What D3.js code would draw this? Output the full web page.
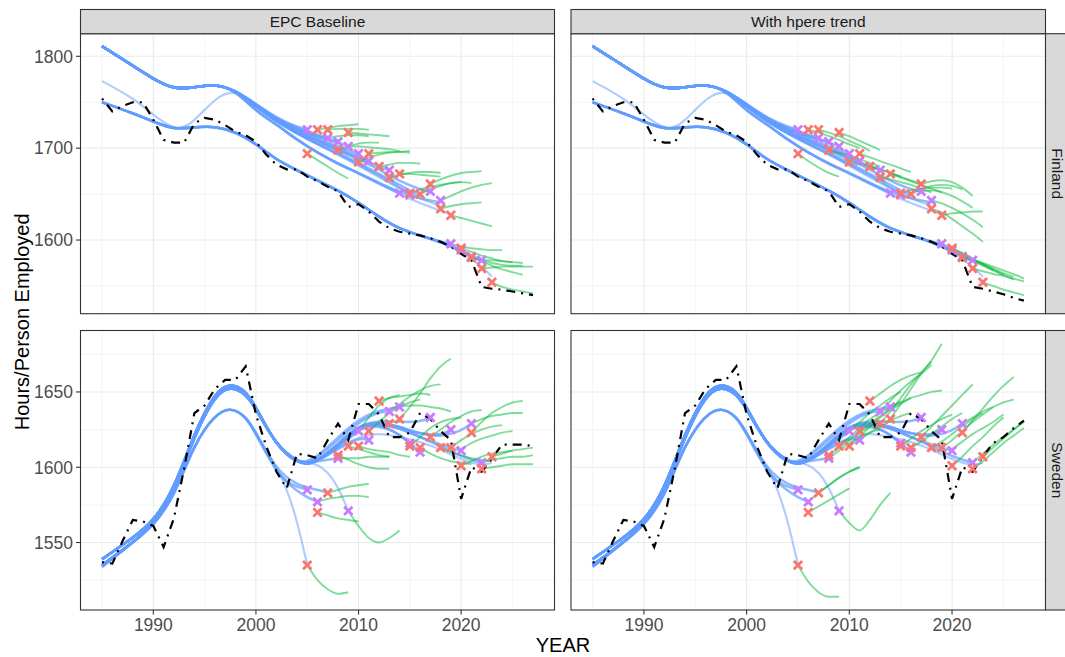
<!DOCTYPE html>
<html>
<head>
<meta charset="utf-8">
<script src="https://cdn.jsdelivr.net/npm/d3@7"></script>
<style>
  body { margin: 0; background: #fff; }
  svg { display: block; font-family: "Liberation Sans", Arial, sans-serif; }
</style>
</head>
<body>
<div id="chart"></div>
<script>
// ---- Data ----
const scenarios = ["EPC Baseline", "With hpere trend"];
const countries = ["Finland", "Sweden"];

const xDomain = [1982.9, 2029.1];
const xTicks = [1990, 2000, 2010, 2020];
const xMinor = [1985, 1995, 2005, 2015, 2025];

const finDomain = [1519.8, 1824.6];
const finTicks = [1600, 1700, 1800];
const finMinor = [1550, 1650, 1750];
const sweDomain = [1505.2, 1690.8];
const sweTicks = [1550, 1600, 1650];
const sweMinor = [1525, 1575, 1625, 1675];

// observed hours 1985..2022
const histYears = d3.range(1985, 2023);
const finActual = [1754, 1740, 1746, 1750, 1750, 1731, 1709, 1706, 1706, 1727, 1733, 1731, 1725, 1718, 1714,
  1707, 1693, 1682, 1677, 1677, 1669, 1664, 1658, 1653, 1636, 1639, 1631, 1620, 1613, 1609, 1607, 1605,
  1602, 1598, 1593, 1585, 1578, 1549];
const sweActual = [1537, 1536, 1551, 1565, 1564, 1561, 1547, 1566, 1599, 1636, 1641, 1652, 1658, 1658, 1667,
  1635, 1614, 1597, 1586, 1609, 1608, 1606, 1618, 1629, 1618, 1642, 1642, 1635, 1620, 1620, 1623, 1636,
  1632, 1624, 1618, 1579, 1600, 1597];
// 2023..2027 continuation per scenario
const tailYears = [2023, 2024, 2025, 2026, 2027];
const finTailEPC = [1547, 1546, 1544, 1542, 1540];
const finTailHP = [1547, 1544, 1541, 1537, 1534];
const sweTailEPC = [1606, 1615, 1615, 1615, 1614];
const sweTailHP = [1607, 1616, 1620, 1626, 1631];

// trend vintages (year, value): shared early history + vintage tails
const finHistA = [[1985, 1811], [1987, 1797], [1990, 1775], [1992, 1764], [1994, 1766], [1996, 1770], [1998, 1763]];
const finTailsA = [
  [[2000, 1748], [2002, 1733], [2004, 1723], [2005, 1720]],
  [[2000, 1748], [2002, 1732], [2004, 1722], [2006, 1715], [2007, 1711]],
  [[2000, 1747], [2002, 1731], [2004, 1720], [2006, 1713], [2008, 1707]],
  [[2000, 1747], [2002, 1731], [2004, 1720], [2006, 1712], [2008, 1706], [2009, 1702]],
  [[2000, 1747], [2002, 1730], [2004, 1719], [2006, 1710], [2008, 1702], [2010, 1694]],
  [[2000, 1746], [2002, 1729], [2004, 1718], [2006, 1709], [2008, 1700], [2010, 1691], [2011, 1686]],
  [[2000, 1746], [2002, 1729], [2004, 1717], [2006, 1707], [2008, 1698], [2010, 1689], [2012, 1680], [2013, 1676]],
  [[2000, 1740], [2002, 1726], [2004, 1709], [2006, 1695], [2008, 1683], [2010, 1673], [2012, 1662], [2014, 1651]],
  [[2000, 1745], [2002, 1729], [2004, 1716], [2006, 1704], [2008, 1694], [2010, 1682], [2012, 1670], [2014, 1658], [2015, 1649]],
  [[2000, 1745], [2002, 1729], [2004, 1716], [2006, 1705], [2008, 1695], [2010, 1684], [2012, 1672], [2014, 1660], [2016, 1648]],
  [[2000, 1746], [2002, 1730], [2004, 1718], [2006, 1708], [2008, 1698], [2010, 1688], [2012, 1677], [2014, 1664], [2016, 1655], [2017, 1653]],
  [[2000, 1740], [2002, 1726], [2004, 1709], [2006, 1695], [2008, 1683], [2010, 1673], [2012, 1662], [2014, 1652], [2016, 1645], [2018, 1641]]
];
const finLightTailsA = [
  [[2000, 1740], [2002, 1726], [2004, 1709], [2006, 1695], [2008, 1683], [2010, 1672], [2012, 1661], [2014, 1650], [2016, 1640], [2018, 1632], [2019, 1628]],
  [[2000, 1745], [2002, 1729], [2004, 1716], [2006, 1704], [2008, 1693], [2010, 1681], [2012, 1668], [2014, 1656], [2016, 1645], [2018, 1637]]
];
const finHistB = [[1985, 1750], [1988, 1738], [1990, 1729], [1992, 1720], [1994, 1723], [1996, 1724], [1998, 1718],
  [2000, 1705], [2002, 1687], [2004, 1676], [2006, 1665], [2008, 1654], [2010, 1641], [2012, 1625], [2014, 1612],
  [2016, 1605], [2018, 1598]];
const finTailsB = [
  [[2019, 1596]],
  [[2020, 1589]],
  [[2020, 1589], [2021, 1582]],
  [[2020, 1588], [2022, 1578]]
];
const finLightTailsB = [[[2020, 1587], [2022, 1572], [2023, 1560]]];
const finOddTrend = [[1985, 1773], [1988, 1755], [1990, 1736], [1992, 1720], [1993.5, 1724], [1995, 1742], [1996.5, 1758],
  [1998, 1763], [2000, 1747], [2002, 1731], [2004, 1721], [2006, 1713]];

const sweHistA = [[1985, 1539], [1988, 1553], [1990, 1564], [1992, 1585], [1994, 1623], [1996, 1650], [1997.5, 1656],
  [1999, 1651], [2000, 1640], [2002, 1614], [2004, 1603]];
const sweHistA2 = [[1985, 1535], [1988, 1550], [1990, 1562], [1992, 1584], [1994, 1621], [1996, 1648], [1997.5, 1654],
  [1999, 1649], [2000, 1639], [2002, 1614], [2004, 1604]];
const sweTailsA = [
  [[2005, 1603], [2006, 1604], [2007, 1605], [2008, 1606]],
  [[2005, 1602], [2006, 1604], [2008, 1613], [2010, 1624]],
  [[2005, 1602], [2006, 1604], [2008, 1612], [2010, 1620], [2011, 1618]],
  [[2005, 1603], [2006, 1606], [2008, 1618], [2010, 1630], [2012, 1637], [2013, 1637]],
  [[2005, 1604], [2006, 1607], [2008, 1620], [2010, 1632], [2012, 1638], [2014, 1640]],
  [[2005, 1602], [2006, 1604], [2008, 1614], [2010, 1626], [2012, 1628], [2014, 1622], [2015, 1616]]
];
const sweTailsA2 = [
  [[2005, 1602], [2006, 1604], [2008, 1614], [2010, 1627], [2012, 1629], [2014, 1622], [2016, 1610]],
  [[2005, 1602], [2006, 1604], [2008, 1615], [2010, 1628], [2012, 1631], [2014, 1630], [2016, 1630], [2017, 1633]],
  [[2005, 1602], [2006, 1604], [2008, 1615], [2010, 1628], [2012, 1630], [2014, 1627], [2016, 1622], [2018, 1621], [2019, 1625]],
  [[2005, 1602], [2006, 1604], [2008, 1615], [2010, 1627], [2012, 1629], [2014, 1626], [2016, 1620], [2018, 1615], [2020, 1611]],
  [[2005, 1602], [2006, 1604], [2008, 1615], [2010, 1628], [2012, 1630], [2014, 1627], [2016, 1622], [2018, 1620], [2020, 1624], [2021, 1629]],
  [[2005, 1602], [2006, 1604], [2008, 1615], [2010, 1627], [2012, 1629], [2014, 1626], [2016, 1620], [2018, 1614], [2020, 1607], [2022, 1603]]
];
const sweLightTailsA = [
  [[2005, 1603], [2006, 1602], [2007, 1597], [2008, 1587], [2009, 1571]],
  [[2005, 1603], [2006, 1605], [2008, 1613], [2010, 1620], [2012, 1623], [2014, 1620], [2016, 1617], [2018, 1612], [2020, 1605], [2022, 1601], [2023, 1603]]
];
const sweHistB = [[1985, 1534], [1988, 1550], [1990, 1561], [1992, 1580], [1994, 1616], [1996, 1635], [1997.5, 1640], [1999, 1634]];
const sweTailsB = [
  [[2000, 1623], [2002, 1597], [2003, 1590], [2004, 1587], [2005, 1585]],
  [[2000, 1622], [2002, 1596], [2004, 1584], [2005, 1580], [2006, 1577]],
  [[2000, 1623], [2002, 1598], [2004, 1588], [2006, 1585], [2007, 1583]]
];
const sweLightTailsB = [[[2000, 1623], [2001, 1611], [2002, 1600], [2003, 1586], [2004, 1565], [2005, 1535]]];

// forecasts: [start year, values for each following year]
const finFcEPC = [
  [2005, 1694, 1687, 1680, 1673, 1667], [2006, 1720, 1722, 1724, 1725, 1726], [2007, 1720, 1721, 1721, 1721, 1720],
  [2007, 1711, 1713, 1714, 1714, 1713], [2008, 1698, 1702, 1705, 1706, 1706], [2009, 1717, 1716, 1715, 1714, 1713],
  [2009, 1702, 1702, 1701, 1700, 1699, 1697], [2010, 1685, 1690, 1693, 1695, 1696, 1697], [2011, 1694, 1695, 1696, 1696, 1695],
  [2012, 1680, 1682, 1684, 1684, 1683], [2013, 1668, 1671, 1673, 1674, 1674, 1673], [2014, 1672, 1672, 1671, 1670, 1669],
  [2015, 1651, 1655, 1658, 1660, 1662, 1663], [2016, 1650, 1655, 1659, 1662, 1663, 1662], [2017, 1661, 1666, 1670, 1673, 1674, 1675],
  [2018, 1643, 1648, 1653, 1657, 1660, 1662], [2018, 1634, 1637, 1639, 1640, 1641], [2019, 1627, 1624, 1621, 1618, 1615],
  [2019, 1596, 1593, 1591, 1590, 1589, 1589], [2020, 1591, 1587, 1583, 1580, 1577, 1576], [2021, 1581, 1578, 1575, 1573, 1572, 1572],
  [2021, 1582, 1577, 1572, 1568, 1565, 1562], [2022, 1569, 1570, 1571, 1571, 1571, 1571], [2022, 1578, 1578, 1577, 1576, 1575],
  [2023, 1554, 1549, 1546, 1544, 1542]
];
const finFcHP = [
  [2005, 1694, 1686, 1679, 1673, 1669], [2006, 1720, 1717, 1713, 1709, 1704, 1700], [2007, 1720, 1717, 1713, 1708, 1703, 1697],
  [2009, 1717, 1713, 1708, 1703, 1698], [2008, 1698, 1695, 1692, 1688, 1684, 1680], [2010, 1685, 1683, 1680, 1677, 1673, 1669],
  [2011, 1694, 1690, 1686, 1682, 1678, 1674], [2012, 1680, 1677, 1673, 1669, 1665, 1661], [2013, 1668, 1666, 1663, 1660, 1656, 1652],
  [2014, 1672, 1668, 1664, 1660, 1656, 1652], [2015, 1651, 1654, 1656, 1657, 1657, 1656], [2016, 1650, 1655, 1659, 1660, 1659, 1655],
  [2017, 1661, 1664, 1665, 1663, 1657, 1648], [2017, 1653, 1654, 1652, 1648, 1642, 1635], [2018, 1643, 1640, 1635, 1629, 1622, 1614],
  [2018, 1634, 1630, 1623, 1615, 1607, 1598], [2019, 1627, 1629, 1630, 1631, 1631],
  [2019, 1596, 1591, 1585, 1579, 1573, 1567], [2020, 1591, 1586, 1580, 1574, 1568, 1562], [2021, 1581, 1577, 1572, 1567, 1562, 1557],
  [2021, 1582, 1578, 1574, 1569, 1564, 1560], [2022, 1569, 1566, 1563, 1561, 1558, 1555], [2022, 1578, 1575, 1571, 1567, 1563, 1558],
  [2023, 1554, 1550, 1546, 1543, 1540]
];
const sweFcEPC = [
  [2005, 1535, 1525, 1519, 1516, 1517], [2006, 1570, 1568, 1566, 1565, 1564], [2007, 1583, 1585, 1587, 1588, 1589],
  [2006, 1577, 1579, 1580, 1581, 1581, 1580], [2009, 1571, 1561, 1553, 1550, 1553, 1558], [2008, 1608, 1605, 1602, 1600, 1599, 1599],
  [2008, 1606, 1606, 1606, 1607, 1607, 1607], [2009, 1614, 1612, 1610, 1608, 1607], [2010, 1614, 1612, 1611, 1610, 1608, 1607],
  [2012, 1644, 1646, 1647, 1648, 1649, 1648], [2014, 1632, 1640, 1649, 1659, 1667, 1672], [2013, 1637, 1642, 1647, 1651, 1654, 1655],
  [2011, 1624, 1630, 1636, 1640, 1643, 1645], [2010, 1624, 1633, 1641, 1646, 1648], [2014, 1640, 1641, 1641, 1640, 1639, 1637],
  [2015, 1614, 1620, 1626, 1630, 1632, 1633], [2016, 1613, 1609, 1606, 1604, 1603, 1602], [2017, 1620, 1625, 1630, 1634, 1637, 1638],
  [2018, 1613, 1610, 1608, 1606, 1605, 1604], [2019, 1613, 1618, 1622, 1625, 1627, 1628], [2020, 1601, 1604, 1607, 1609, 1610, 1611],
  [2021, 1623, 1630, 1636, 1640, 1643, 1644], [2021, 1629, 1632, 1634, 1635, 1636, 1636], [2022, 1599, 1600, 1601, 1602, 1602, 1602],
  [2023, 1607, 1609, 1611, 1612, 1613], [2022, 1603, 1605, 1606, 1607, 1607, 1608], [2020, 1612, 1616, 1619, 1621, 1623, 1624]
];
const sweFcHP = [
  [2005, 1535, 1524, 1517, 1514, 1514], [2006, 1570, 1574, 1578, 1582, 1586], [2007, 1583, 1588, 1593, 1597, 1600],
  [2006, 1577, 1583, 1588, 1593, 1597, 1600], [2009, 1571, 1563, 1558, 1565, 1575, 1583], [2008, 1608, 1613, 1618, 1623, 1627, 1630],
  [2008, 1606, 1611, 1616, 1620, 1623, 1625], [2009, 1614, 1620, 1626, 1632, 1636, 1640], [2010, 1614, 1620, 1627, 1633, 1639, 1644],
  [2012, 1644, 1649, 1654, 1658, 1661, 1663], [2013, 1629, 1637, 1646, 1655, 1663, 1670], [2014, 1632, 1642, 1652, 1662, 1671, 1682],
  [2013, 1637, 1644, 1651, 1657, 1662, 1668], [2014, 1640, 1643, 1646, 1648, 1650, 1651], [2011, 1624, 1629, 1634, 1638, 1642, 1646],
  [2011, 1618, 1623, 1627, 1631, 1634, 1636], [2010, 1624, 1630, 1636, 1641, 1646, 1650], [2015, 1614, 1619, 1624, 1628, 1632, 1635],
  [2016, 1613, 1617, 1622, 1627, 1632, 1636], [2017, 1620, 1627, 1634, 1641, 1648, 1655], [2018, 1613, 1617, 1622, 1627, 1632, 1636],
  [2019, 1613, 1618, 1624, 1630, 1635, 1640], [2020, 1601, 1607, 1614, 1620, 1627, 1633], [2021, 1623, 1631, 1639, 1647, 1654, 1660],
  [2021, 1629, 1633, 1637, 1640, 1643, 1645], [2020, 1612, 1617, 1622, 1626, 1630, 1635], [2022, 1599, 1604, 1610, 1616, 1621, 1626],
  [2022, 1603, 1609, 1615, 1620, 1625, 1630], [2023, 1607, 1613, 1619, 1625, 1631]
];

// vintage markers (year, value)
const finRed = [[2005, 1694], [2006, 1720], [2007, 1720], [2008, 1698], [2009, 1717], [2010, 1685], [2011, 1694], [2012, 1680],
  [2013, 1668], [2014, 1672], [2015, 1651], [2016, 1650], [2017, 1661], [2018, 1634], [2019, 1627], [2020, 1591], [2021, 1581],
  [2022, 1569], [2023, 1554]];
const finPurple = [[2005, 1720], [2007, 1711], [2008, 1707], [2009, 1702], [2010, 1694], [2011, 1686], [2013, 1676], [2014, 1651],
  [2015, 1649], [2017, 1653], [2018, 1643], [2019, 1596], [2020, 1589], [2021, 1582], [2022, 1578]];
const sweRed = [[2005, 1535], [2006, 1570], [2007, 1583], [2008, 1608], [2009, 1614], [2010, 1614], [2011, 1624], [2012, 1644],
  [2013, 1629], [2014, 1632], [2015, 1614], [2016, 1613], [2017, 1620], [2018, 1613], [2019, 1613], [2020, 1601], [2021, 1623],
  [2022, 1599], [2023, 1607]];
const swePurple = [[2005, 1585], [2006, 1577], [2008, 1606], [2009, 1571], [2010, 1624], [2011, 1618], [2013, 1637], [2014, 1640],
  [2015, 1616], [2016, 1610], [2017, 1633], [2019, 1625], [2020, 1611], [2021, 1629], [2022, 1603]];

// ---- Layout ----
const W = 1065, H = 657;
const colX = [[80.5, 554.5], [571, 1045.5]];
const rowY = [[33.7, 313.7], [330.5, 610]];
const stripTop = 9.5, stripRight = 1069.5;

const blue = "#619CFF", green = "#00BA38", red = "#F8766D", purple = "#C77CFF";

const withHist = (hist, tails) => tails.map(t => hist.concat(t));
const rows = [
  {
    name: countries[0], domain: finDomain, ticks: finTicks, minor: finMinor,
    actual: finActual, tails: [finTailEPC, finTailHP], fc: [finFcEPC, finFcHP],
    dark: withHist(finHistA, finTailsA).concat(withHist(finHistB, finTailsB)),
    light: withHist(finHistA, finLightTailsA).concat(withHist(finHistB, finLightTailsB), [finOddTrend]),
    red: finRed, purple: finPurple
  },
  {
    name: countries[1], domain: sweDomain, ticks: sweTicks, minor: sweMinor,
    actual: sweActual, tails: [sweTailEPC, sweTailHP], fc: [sweFcEPC, sweFcHP],
    dark: withHist(sweHistA, sweTailsA).concat(withHist(sweHistA2, sweTailsA2), withHist(sweHistB, sweTailsB)),
    light: withHist(sweHistA, sweLightTailsA).concat(withHist(sweHistB, sweLightTailsB)),
    red: sweRed, purple: swePurple
  }
];

const svg = d3.select("#chart").append("svg")
  .attr("width", W).attr("height", H);
svg.append("rect").attr("width", W).attr("height", H).attr("fill", "#fff");
const defs = svg.append("defs");

const xMark = "M-4.2,-4.2L4.2,4.2M-4.2,4.2L4.2,-4.2";

rows.forEach((r, ri) => {
  const [y0, y1] = rowY[ri];
  const y = d3.scaleLinear().domain(r.domain).range([y1, y0]);

  scenarios.forEach((sc, ci) => {
    const [x0, x1] = colX[ci];
    const x = d3.scaleLinear().domain(xDomain).range([x0, x1]);
    const g = svg.append("g");
    const clipId = `clip-${ri}-${ci}`;
    defs.append("clipPath").attr("id", clipId)
      .append("rect").attr("x", x0).attr("y", y0).attr("width", x1 - x0).attr("height", y1 - y0);

    // grid
    g.selectAll(".vminor").data(xMinor).join("line")
      .attr("x1", d => x(d)).attr("x2", d => x(d)).attr("y1", y0).attr("y2", y1)
      .attr("stroke", "#EBEBEB").attr("stroke-width", 0.55);
    g.selectAll(".hminor").data(r.minor).join("line")
      .attr("x1", x0).attr("x2", x1).attr("y1", d => y(d)).attr("y2", d => y(d))
      .attr("stroke", "#EBEBEB").attr("stroke-width", 0.55);
    g.selectAll(".vmajor").data(xTicks).join("line")
      .attr("x1", d => x(d)).attr("x2", d => x(d)).attr("y1", y0).attr("y2", y1)
      .attr("stroke", "#EBEBEB").attr("stroke-width", 1.1);
    g.selectAll(".hmajor").data(r.ticks).join("line")
      .attr("x1", x0).attr("x2", x1).attr("y1", d => y(d)).attr("y2", d => y(d))
      .attr("stroke", "#EBEBEB").attr("stroke-width", 1.1);

    const plot = g.append("g").attr("clip-path", `url(#${clipId})`);
    const smooth = d3.line().x(d => x(d[0])).y(d => y(d[1])).curve(d3.curveBasis);
    const straight = d3.line().x(d => x(d[0])).y(d => y(d[1]));

    // trend vintages
    plot.append("g").selectAll("path").data(r.light).join("path")
      .attr("d", smooth).attr("fill", "none").attr("stroke", blue)
      .attr("stroke-width", 2.2).attr("stroke-opacity", 0.5);
    plot.append("g").selectAll("path").data(r.dark).join("path")
      .attr("d", smooth).attr("fill", "none").attr("stroke", blue)
      .attr("stroke-width", 2.6).attr("stroke-opacity", 0.7);

    // forecasts
    const fcPts = r.fc[ci].map(f => f.slice(1).map((v, k) => [f[0] + k, v]));
    plot.append("g").selectAll("path").data(fcPts).join("path")
      .attr("d", d3.line().x(d => x(d[0])).y(d => y(d[1])).curve(d3.curveMonotoneX))
      .attr("fill", "none").attr("stroke", green)
      .attr("stroke-width", 1.9).attr("stroke-opacity", 0.5);

    // observed series
    const obs = histYears.map((yr, k) => [yr, r.actual[k]])
      .concat(tailYears.map((yr, k) => [yr, r.tails[ci][k]]));
    plot.append("path").attr("d", straight(obs))
      .attr("fill", "none").attr("stroke", "#000").attr("stroke-width", 2.2)
      .attr("stroke-dasharray", "2,6,9,6");

    // markers
    plot.append("g").selectAll("path").data(r.purple).join("path")
      .attr("transform", d => `translate(${x(d[0])},${y(d[1])})`)
      .attr("d", xMark).attr("stroke", purple).attr("stroke-width", 2.8)
      .attr("fill", "none");
    plot.append("g").selectAll("path").data(r.red).join("path")
      .attr("transform", d => `translate(${x(d[0])},${y(d[1])})`)
      .attr("d", xMark).attr("stroke", red).attr("stroke-width", 2.8)
      .attr("fill", "none");

    // border
    g.append("rect").attr("x", x0).attr("y", y0).attr("width", x1 - x0).attr("height", y1 - y0)
      .attr("fill", "none").attr("stroke", "#333333").attr("stroke-width", 1.1);

    // top strips
    if (ri === 0) {
      svg.append("rect").attr("x", x0).attr("y", stripTop).attr("width", x1 - x0).attr("height", y0 - stripTop)
        .attr("fill", "#D9D9D9").attr("stroke", "#333333").attr("stroke-width", 1.1);
      svg.append("text").attr("x", (x0 + x1) / 2).attr("y", (stripTop + y0) / 2).attr("dy", "0.35em")
        .attr("text-anchor", "middle").attr("font-size", 15.5).attr("fill", "#1A1A1A").text(sc);
    }
    // y axis on left column
    if (ci === 0) {
      const ax = svg.append("g");
      ax.selectAll("line").data(r.ticks).join("line")
        .attr("x1", x0 - 4.5).attr("x2", x0).attr("y1", d => y(d)).attr("y2", d => y(d))
        .attr("stroke", "#333333").attr("stroke-width", 1.1);
      ax.selectAll("text").data(r.ticks).join("text")
        .attr("x", x0 - 7.5).attr("y", d => y(d)).attr("dy", "0.36em")
        .attr("text-anchor", "end").attr("font-size", 17.5).attr("fill", "#4D4D4D").text(d => d);
    }
    // x axis on bottom row
    if (ri === rows.length - 1) {
      const ax = svg.append("g");
      ax.selectAll("line").data(xTicks).join("line")
        .attr("x1", d => x(d)).attr("x2", d => x(d)).attr("y1", y1).attr("y2", y1 + 4.5)
        .attr("stroke", "#333333").attr("stroke-width", 1.1);
      ax.selectAll("text").data(xTicks).join("text")
        .attr("x", d => x(d)).attr("y", y1 + 7.5).attr("dy", "0.76em")
        .attr("text-anchor", "middle").attr("font-size", 17.5).attr("fill", "#4D4D4D").text(d => d);
    }
  });

  // right strip
  svg.append("rect").attr("x", colX[1][1]).attr("y", y0).attr("width", stripRight - colX[1][1]).attr("height", y1 - y0)
    .attr("fill", "#D9D9D9").attr("stroke", "#333333").attr("stroke-width", 1.1);
  const cx = (colX[1][1] + stripRight) / 2, cy = (y0 + y1) / 2;
  svg.append("text").attr("transform", `translate(${cx},${cy}) rotate(90)`).attr("dy", "0.35em")
    .attr("text-anchor", "middle").attr("font-size", 15.5).attr("fill", "#1A1A1A").text(r.name);
});

// axis titles
svg.append("text").attr("x", (colX[0][0] + colX[1][1]) / 2).attr("y", 652)
  .attr("text-anchor", "middle").attr("font-size", 20).attr("fill", "#000").text("YEAR");
svg.append("text").attr("transform", `translate(29,${(rowY[0][0] + rowY[1][1]) / 2}) rotate(-90)`)
  .attr("text-anchor", "middle").attr("font-size", 20).attr("fill", "#000").text("Hours/Person Employed");
</script>
</body>
</html>
